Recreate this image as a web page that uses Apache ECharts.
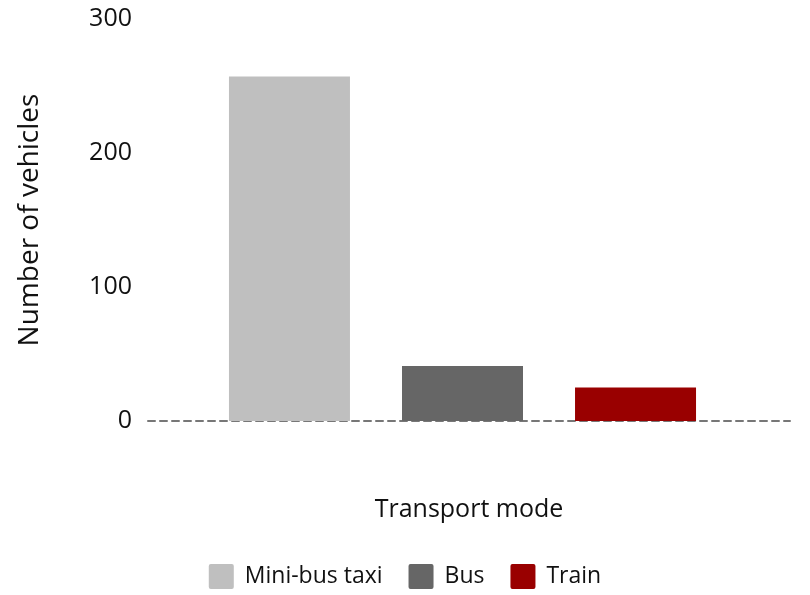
<!DOCTYPE html>
<html><head><meta charset="utf-8">
<script src="https://cdn.jsdelivr.net/npm/echarts@6/dist/echarts.min.js"></script>
<style>html,body{margin:0;padding:0;background:#fff}#c{width:810px;height:595px}</style>
</head><body><div id="c"></div>
<script>
const categories = ['Transport mode'];
const seriesNames = ['Mini-bus taxi', 'Bus', 'Train'];
const seriesValues = [[257], [41], [25]];
const seriesColors = ['#bfbfbf', '#666666', '#990000'];
const yTicks = [0, 100, 200, 300];

const font = 'Open Sans';
const chart = echarts.init(document.getElementById('c'), null, {renderer: 'canvas'});
chart.setOption({
  animation: false,
  textStyle: {fontFamily: font},
  grid: [
    {left: 148, right: 20, top: 19, bottom: 174},
    {left: 148, right: 33, top: 19, bottom: 174}
  ],
  legend: {
    bottom: 6, left: 'center', padding: 0,
    itemWidth: 25, itemHeight: 25, itemGap: 26,
    icon: 'path://M2,0H23Q25,0 25,2V23Q25,25 23,25H2Q0,25 0,23V2Q0,0 2,0Z',
    textStyle: {fontSize: 23, color: '#111', fontFamily: font, padding: [0, 0, 0, 6]},
    data: seriesNames
  },
  xAxis: [
    {gridIndex: 0, type: 'category', data: categories,
     name: 'Transport mode', nameLocation: 'middle', nameGap: 76,
     nameTextStyle: {fontSize: 25, color: '#111', fontFamily: font},
     axisLine: {lineStyle: {color: '#777', width: 2, type: [7, 5]}},
     axisTick: {show: false}, axisLabel: {show: false}},
    {gridIndex: 1, type: 'category', data: categories, show: false}
  ],
  yAxis: [
    {gridIndex: 0, type: 'value', min: yTicks[0], max: yTicks[yTicks.length-1], interval: 100,
     name: 'Number of vehicles', nameLocation: 'middle', nameGap: 104,
     nameTextStyle: {fontSize: 28, color: '#111', fontFamily: font},
     axisLine: {show: false}, axisTick: {show: false}, splitLine: {show: false},
     axisLabel: {fontSize: 25, color: '#111', fontFamily: font, margin: 16}},
    {gridIndex: 1, type: 'value', min: yTicks[0], max: yTicks[yTicks.length-1], interval: 100, show: false, splitLine: {show: false}}
  ],
  series: seriesNames.map((n, i) => ({
    name: n, type: 'bar', xAxisIndex: 1, yAxisIndex: 1,
    data: seriesValues[i], barWidth: 121, barGap: '43%',
    itemStyle: {color: seriesColors[i]}
  }))
});
</script></body></html>
